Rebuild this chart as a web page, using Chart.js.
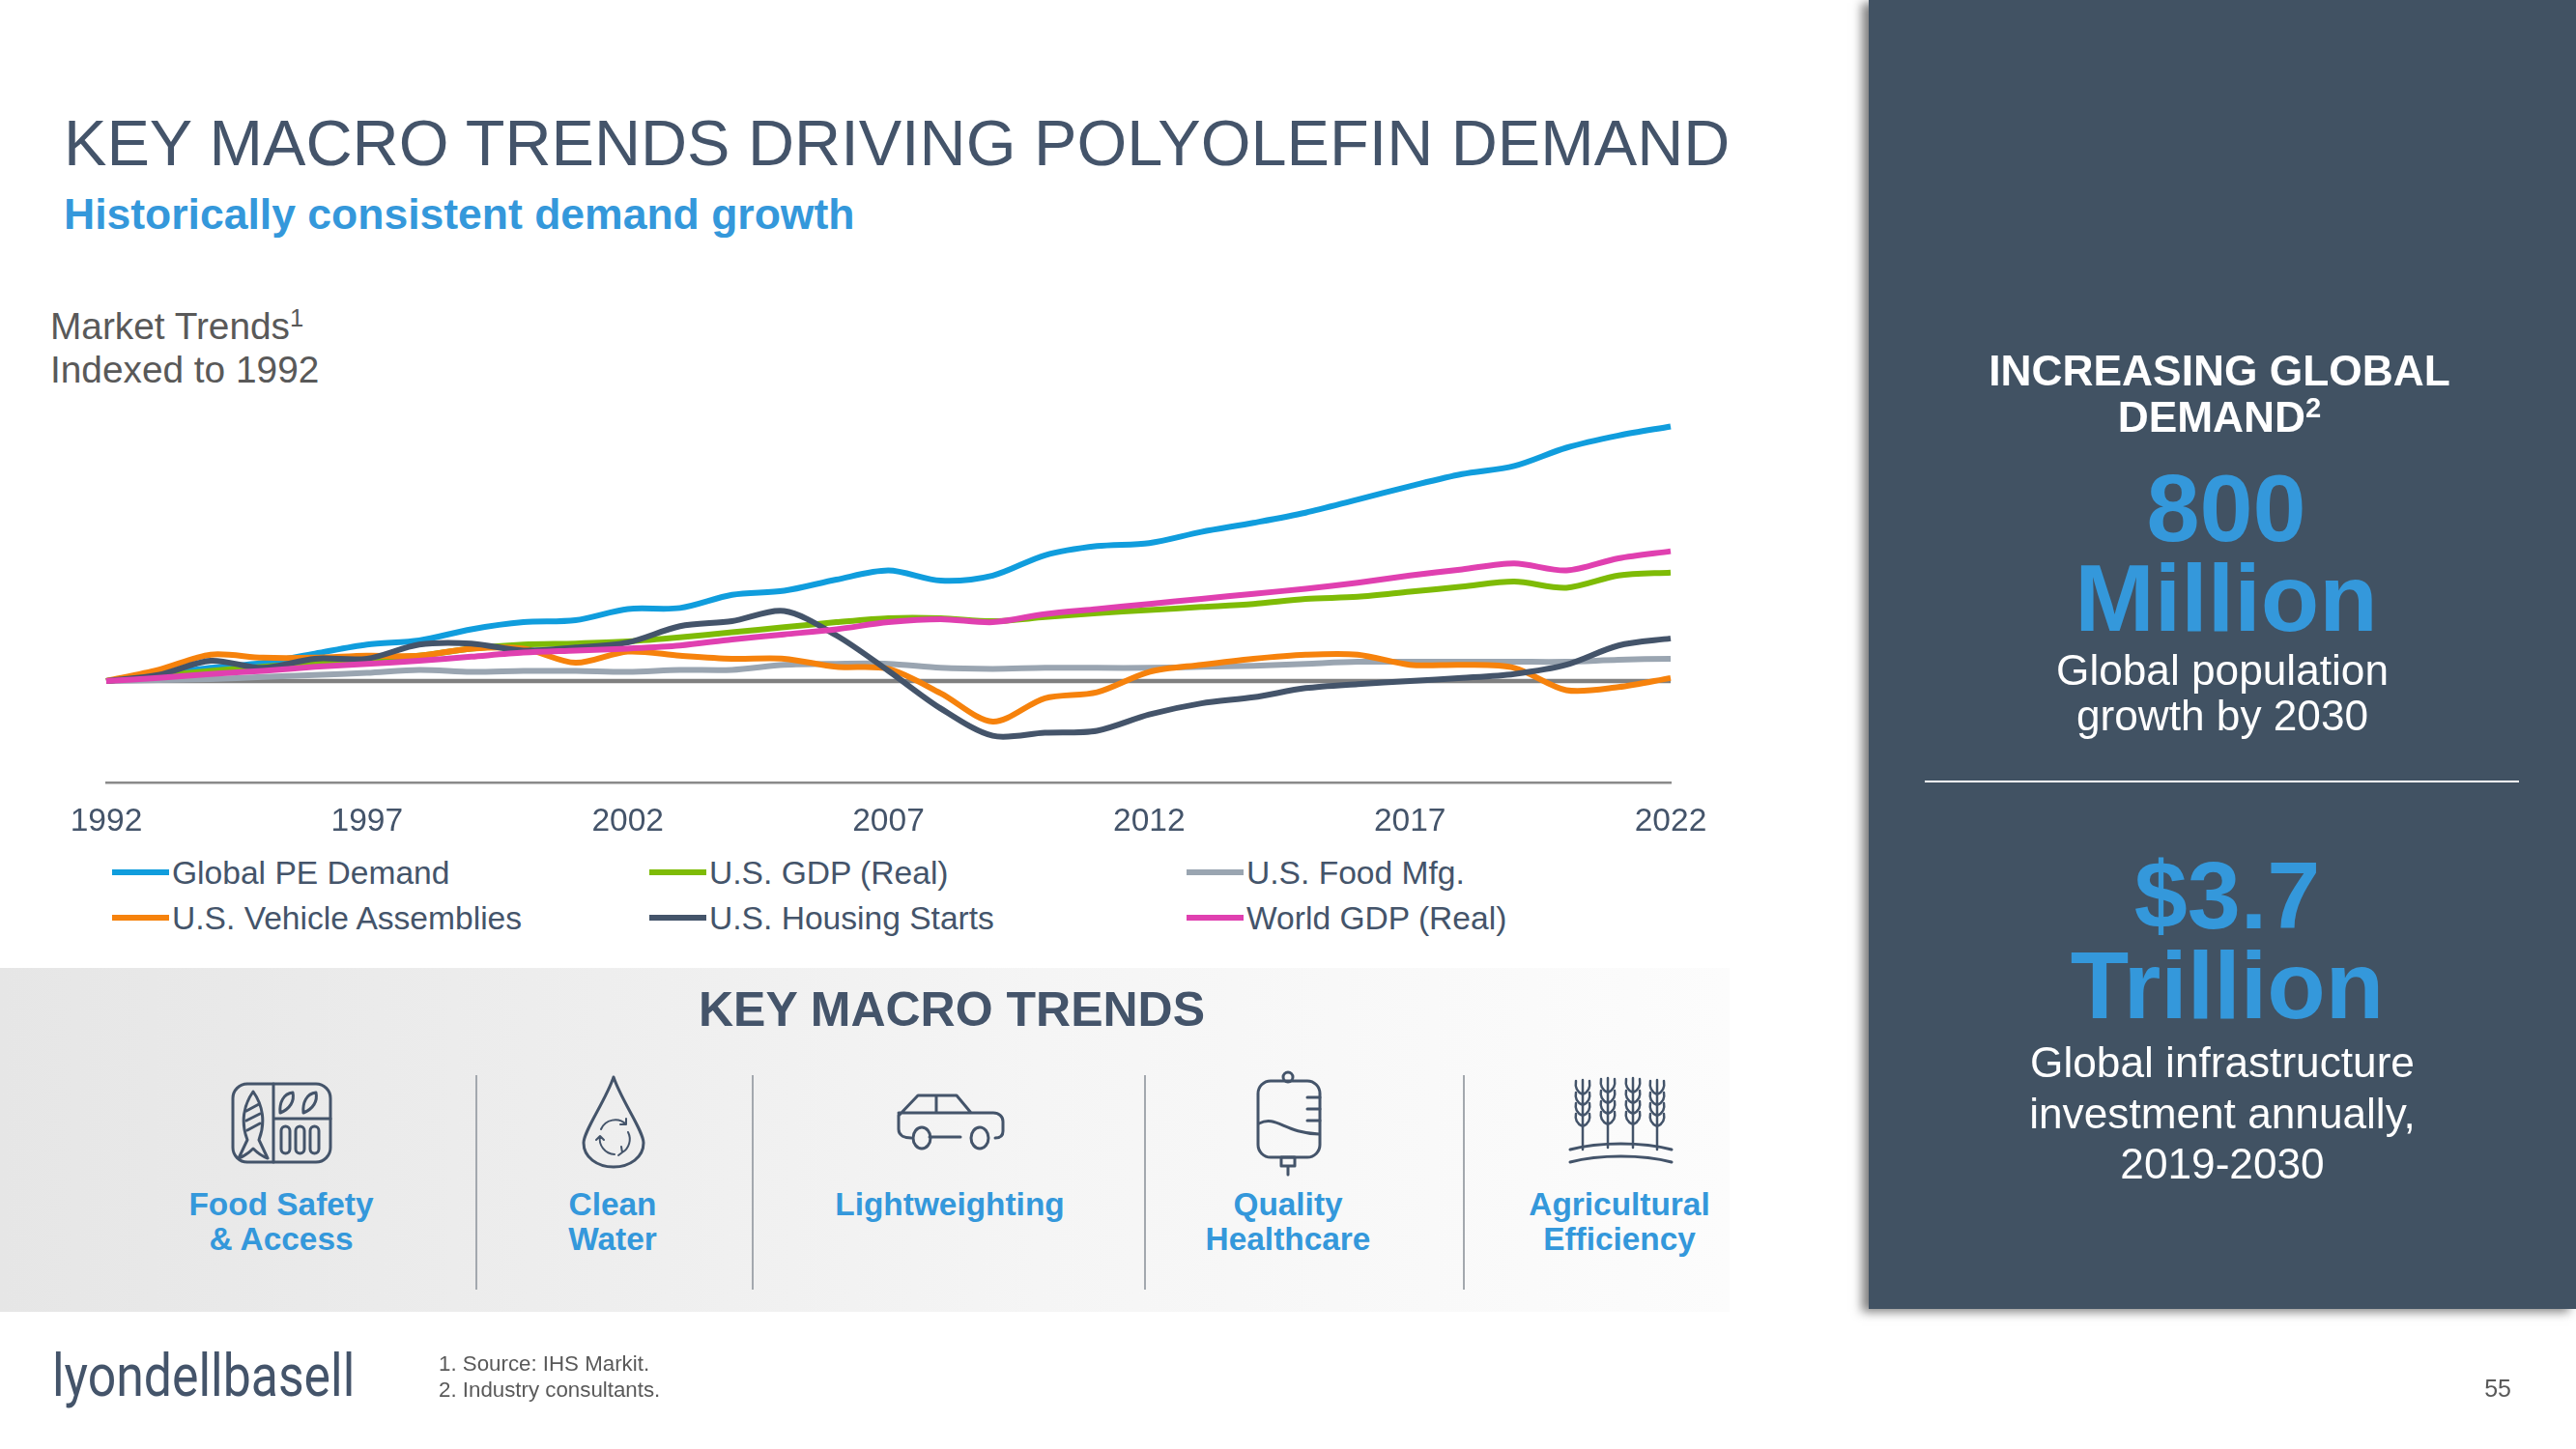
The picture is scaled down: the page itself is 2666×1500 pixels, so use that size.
<!DOCTYPE html>
<html><head><meta charset="utf-8">
<script src="https://cdn.jsdelivr.net/npm/chart.js@4"></script>
<style>
html,body{margin:0;padding:0;background:#fff;width:2666px;height:1500px;overflow:hidden}
body{position:relative;font-family:"Liberation Sans",Arial,sans-serif}
.t{position:absolute;white-space:nowrap;line-height:1}
.c{transform:translateX(-50%);text-align:center}
sup{font-size:66%;line-height:0;vertical-align:baseline;position:relative;top:-.5em;font-family:"Liberation Sans"}
#band{position:absolute;left:0;top:1002px;width:1790px;height:356px;background:linear-gradient(90deg,#e6e6e6,#eeeeee 35%,#f5f5f5 60%,#fcfcfc 100%)}
#panel{position:absolute;left:1934px;top:0;width:732px;height:1355px;background:#415263;box-shadow:-7px 3px 10px rgba(0,0,0,.5)}
.div{position:absolute;width:2px;top:1113px;height:222px;background:#a3a8ae}
#chartBox{position:absolute;left:0;top:380px;width:1900px;height:500px}
.lg{position:absolute;height:6px;width:59px}
svg{position:absolute;left:0;top:0;width:2666px;height:1500px;pointer-events:none}
svg .i{fill:none;stroke:#44546a;stroke-width:3;stroke-linecap:round;stroke-linejoin:round}
.lab{color:#3498db;font-weight:bold;font-size:33.4px}
.big{color:#3498db;font-weight:bold;font-size:99px}
.wh{color:#fff;font-size:44.2px}
</style></head><body>
<div id="band"></div>
<div id="panel"></div>
<div class="t" style="left:66px;top:115px;font-size:66.6px;color:#44546a">KEY MACRO TRENDS DRIVING POLYOLEFIN DEMAND</div>
<div class="t" style="left:66px;top:200px;font-size:44.5px;font-weight:bold;color:#3498db">Historically consistent demand growth</div>
<div class="t" style="left:52px;top:319px;font-size:38.8px;color:#595959">Market Trends<sup>1</sup></div>
<div class="t" style="left:52px;top:364px;font-size:38.8px;color:#595959">Indexed to 1992</div>
<div id="chartBox"><canvas id="c" width="1900" height="500"></canvas></div>
<div id="legend"></div>
<div class="t c" style="left:985px;top:1020px;font-size:50px;font-weight:bold;color:#44546a">KEY MACRO TRENDS</div>
<div class="div" style="left:492px"></div><div class="div" style="left:778px"></div><div class="div" style="left:1184px"></div><div class="div" style="left:1514px"></div>
<div class="t c lab" style="left:291px;top:1230px">Food Safety</div><div class="t c lab" style="left:291px;top:1266px">&amp; Access</div>
<div class="t c lab" style="left:634px;top:1230px">Clean</div><div class="t c lab" style="left:634px;top:1266px">Water</div>
<div class="t c lab" style="left:983px;top:1230px">Lightweighting</div>
<div class="t c lab" style="left:1333px;top:1230px">Quality</div><div class="t c lab" style="left:1333px;top:1266px">Healthcare</div>
<div class="t c lab" style="left:1676px;top:1230px">Agricultural</div><div class="t c lab" style="left:1676px;top:1266px">Efficiency</div>
<svg viewBox="0 0 2666 1500">
 <defs><g id="wheat" class="i">
  <path stroke-width="2.5" d="M0 52V-20M0 -5c-7-3-8-8-7-14M0 -5c7-3 8-8 7-14M0 6c-7-3-8-8-7-13M0 6c7-3 8-8 7-13M0 17c-7-3-8-8-7-13M0 17c7-3 8-8 7-13M0 28c-7-3-8-8-7-13M0 28c7-3 8-8 7-13"/>
 </g></defs>
 <g class="i">
  <rect x="241" y="1122" width="101" height="81" rx="15"/>
  <path d="M283 1122V1203M283 1158H342"/>
  <path d="M262 1130c10 14 13 32 6 50l9 19c-6-2-11-6-15-10c-4 4-9 8-15 10l9-19c-7-18-4-36 6-50z"/>
  <path d="M255 1150l13-7M255 1160l14-7M256 1170l13-7"/>
  <path d="M290 1152c-1-10 3-20 13-21c2 9-3 17-13 21zM314 1152c-1-10 3-20 13-21c2 9-3 17-13 21z"/>
  <rect x="291" y="1166" width="9" height="28" rx="4.5"/><rect x="306" y="1166" width="9" height="28" rx="4.5"/><rect x="321" y="1166" width="9" height="28" rx="4.5"/>
  <path d="M635 1115c-8 24-31 56-31 68c0 15 14 25 31 25s31-10 31-25c0-12-23-44-31-68z"/>
  <path stroke-width="2" d="M622 1169a16 16 0 0 1 26-5M650 1172a16 16 0 0 1-6 21M636 1195a16 16 0 0 1-15-19M648 1158v6h-6M640 1196l4-3l-1-6M621 1176l-4 4M621 1176l4 4"/>
  <path d="M943 1178c-6 0-13-2-13-9v-14c0-2 1-3 3-3h95c6 0 10 4 10 9v10c0 5-3 7-8 7M930 1155l20-21h40l15 18H930M969 1134V1152M962 1177h32"/>
  <ellipse cx="954" cy="1178" rx="9" ry="11"/><ellipse cx="1014" cy="1178" rx="9" ry="11"/>
  <rect x="1302" y="1119" width="64" height="79" rx="13"/>
  <circle cx="1333" cy="1115" r="5"/>
  <path d="M1303 1163c18-9 26 10 62 11M1353 1136h13M1353 1148h13M1353 1160h13"/>
  <path d="M1326 1198h14v9h-14zM1333 1207v9"/>
  <path d="M1625 1190c30-8 75-8 105 0M1625 1203c30-8 75-8 105 0"/>
 </g>
 <use href="#wheat" x="1638" y="1138"/><use href="#wheat" x="1664" y="1136"/><use href="#wheat" x="1690" y="1136"/><use href="#wheat" x="1715" y="1138"/>
</svg>
<div class="t" style="left:54px;top:1393px;font-size:62px;color:#44546a;font-family:'Roboto';font-weight:400;transform-origin:0 0;transform:scaleX(.835)">lyondellbasell</div>
<div class="t" style="left:454px;top:1401px;font-size:22.3px;color:#595959">1. Source: IHS Markit.</div>
<div class="t" style="left:454px;top:1428px;font-size:22.3px;color:#595959">2. Industry consultants.</div>
<div class="t" style="right:67px;top:1425px;font-size:25px;color:#595959">55</div>
<div class="t c" style="left:2297px;top:362px;font-size:44.3px;font-weight:bold;color:#fff">INCREASING GLOBAL</div>
<div class="t c" style="left:2297px;top:410px;font-size:44.3px;font-weight:bold;color:#fff">DEMAND<sup>2</sup></div>
<div class="t c big" style="left:2304px;top:476px">800</div>
<div class="t c big" style="left:2304px;top:569px">Million</div>
<div class="t c wh" style="left:2300px;top:672px">Global population</div>
<div class="t c wh" style="left:2300px;top:719px">growth by 2030</div>
<div style="position:absolute;left:1992px;top:808px;width:615px;height:2px;background:#fff"></div>
<div class="t c big" style="left:2305px;top:877px">$3.7</div>
<div class="t c big" style="left:2305px;top:970px">Trillion</div>
<div class="t c wh" style="left:2300px;top:1078px">Global infrastructure</div>
<div class="t c wh" style="left:2300px;top:1131px">investment annually,</div>
<div class="t c wh" style="left:2300px;top:1183px">2019-2030</div>
<script>
const years=[1992,1993,1994,1995,1996,1997,1998,1999,2000,2001,2002,2003,2004,2005,2006,2007,2008,2009,2010,2011,2012,2013,2014,2015,2016,2017,2018,2019,2020,2021,2022];
const tickYears=[1992,1997,2002,2007,2012,2017,2022];
const globalPE=[100,106,113,118,127,136,140,151,158,160,171,172,185,189,200,209,199,204,224,233,236,247,256,266,279,292,304,312,330,342,351];
const vehicles=[100,111,126,123,123,125,125,132,132,118,129,125,122,122,114,112,88,60,83,89,109,116,122,126,126,116,116,113,91,94,103];
const gdp=[100,105,110,114,118,122,125,132,136,137,139,143,148,153,158,162,162,159,163,167,170,173,176,181,183,188,193,198,192,204,207];
const housing=[100,106,120,113,122,122,136,137,130,133,138,154,159,169,145,110,73,46,49,51,67,78,84,93,97,100,103,107,116,135,142];
const foodMfg=[100,101,102,104,106,108,111,109,110,110,109,111,111,116,117,117,113,112,113,113,113,114,115,117,119,119,119,119,119,121,122];
const worldGDP=[100,103,107,110,114,117,120,124,128,130,132,135,141,146,151,158,161,158,166,171,176,181,186,191,197,204,210,216,209,221,228];
const baseline=[100,100,100,100,100,100,100,100,100,100,100,100,100,100,100,100,100,100,100,100,100,100,100,100,100,100,100,100,100,100,100];
const seriesNames=["Global PE Demand","U.S. Vehicle Assemblies","U.S. GDP (Real)","U.S. Housing Starts","U.S. Food Mfg.","World GDP (Real)"];
const seriesColors=["#109ddd","#f6820c","#7ebb06","#44546a","#9aa5b1","#e040b0"];
const seriesValues=[globalPE,vehicles,gdp,housing,foodMfg,worldGDP];
const drawOrder=[5,3,4,2,6,1];
const ds=seriesNames.map((n,i)=>({label:n,data:seriesValues[i],borderColor:seriesColors[i],backgroundColor:seriesColors[i],borderWidth:6,pointRadius:0,tension:.3,fill:false,order:drawOrder[i],borderCapStyle:'butt'}));
ds.push({label:"1992 index level",data:baseline,borderColor:"#808080",backgroundColor:"#808080",borderWidth:4.5,pointRadius:0,tension:0,order:9,borderCapStyle:'butt'});
Chart.defaults.font.family='"Liberation Sans",Arial,sans-serif';
new Chart(document.getElementById('c'),{type:'line',data:{labels:years,datasets:ds},options:{
 responsive:false,animation:false,
 layout:{padding:{left:110,right:171,top:10,bottom:0}},
 plugins:{legend:{display:false},tooltip:{enabled:false}},
 scales:{
  y:{display:false,min:0,max:400},
  x:{offset:false,afterFit:s=>{s.height=70},
   grid:{display:false,drawTicks:false},
   border:{display:true,color:'#8a8a8a',width:2.5},
   ticks:{autoSkip:false,maxRotation:0,minRotation:0,padding:21,color:'#44546a',font:{size:33.5},
    callback:function(v){const y=this.getLabelForValue(v);return tickYears.includes(+y)?String(y):''}}}
 }}});
const legendLayout=[[0,116,903],[1,116,950],[2,672,903],[3,672,950],[4,1228,903],[5,1228,950]];
const lg=document.getElementById('legend');
legendLayout.forEach(([i,x,y])=>{
 const b=document.createElement('div');b.className='lg';b.style.cssText=`left:${x}px;top:${y-3}px;background:${seriesColors[i]}`;lg.appendChild(b);
 const t=document.createElement('div');t.className='t';t.textContent=seriesNames[i];t.style.cssText=`left:${x+62}px;top:${y-16}px;font-size:33.6px;color:#44546a`;lg.appendChild(t);
});
</script>
</body></html>
